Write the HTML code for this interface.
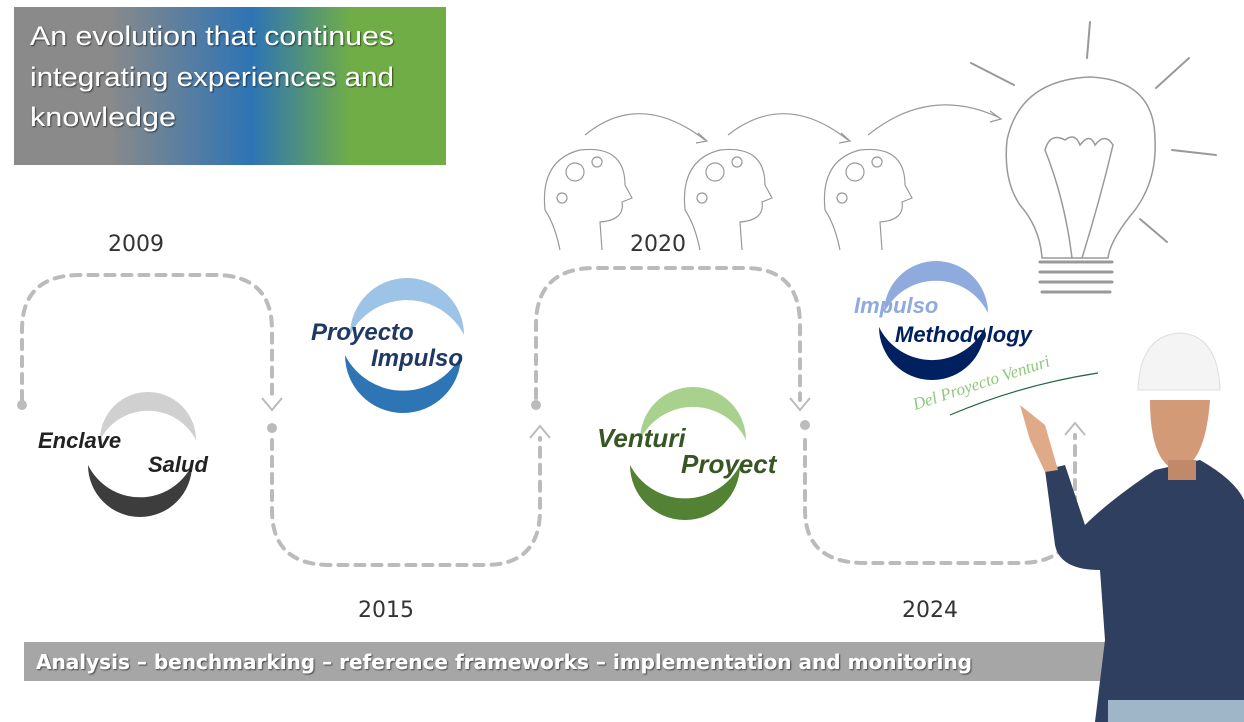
<!DOCTYPE html>
<html><head><meta charset="utf-8"><style>
body{margin:0;width:1244px;height:722px;overflow:hidden;background:#fff;font-family:"Liberation Sans",sans-serif}
svg{position:absolute;left:0;top:0}
</style></head><body>
<svg width="1244" height="722" viewBox="0 0 1244 722">
<defs>
<linearGradient id="hg" x1="0" x2="1" y1="0" y2="0">
<stop offset="0" stop-color="#8a8a8a"/><stop offset="0.22" stop-color="#8a8a8a"/>
<stop offset="0.55" stop-color="#2e74b5"/><stop offset="0.78" stop-color="#70ad47"/><stop offset="1" stop-color="#70ad47"/>
</linearGradient>
<filter id="sh"><feDropShadow dx="1" dy="1" stdDeviation="0.8" flood-color="#000" flood-opacity="0.6"/></filter>
</defs>
<rect x="14" y="7" width="432" height="158" fill="url(#hg)"/>
<g font-family="'Liberation Sans',sans-serif" font-size="27" fill="#fff" filter="url(#sh)">
<text x="30" y="45" textLength="364" lengthAdjust="spacingAndGlyphs">An evolution that continues</text>
<text x="30" y="86" textLength="364" lengthAdjust="spacingAndGlyphs">integrating experiences and</text>
<text x="30" y="126" textLength="146" lengthAdjust="spacingAndGlyphs">knowledge</text>
</g>
<g fill="none" stroke="#bbb" stroke-width="4" stroke-dasharray="9 8" stroke-linecap="round">
<path d="M22 400 V330 Q22 275 80 275 H215 Q272 275 272 330 V398"/>
<path d="M272 440 V510 Q272 565 330 565 H485 Q540 565 540 510 V438"/>
<path d="M536 398 V325 Q536 268 595 268 H745 Q800 268 800 325 V400"/>
<path d="M805 440 V510 Q805 563 865 563 H1020 Q1075 563 1075 510 V435"/>
</g>
<g fill="#bbb"><circle cx="22" cy="405" r="5"/><circle cx="272" cy="428" r="5"/><circle cx="536" cy="405" r="5"/><circle cx="805" cy="425" r="5"/></g>
<g fill="none" stroke="#bbb" stroke-width="2">
<path d="M262 398 L272 410 L282 398"/><path d="M530 438 L540 426 L550 438"/>
<path d="M790 398 L800 410 L810 398"/><path d="M1065 435 L1075 423 L1085 435"/>
</g>
<g font-family="'DejaVu Sans',sans-serif" font-size="22" fill="#333">
<text x="108" y="251">2009</text><text x="358" y="617">2015</text>
<text x="630" y="251">2020</text><text x="902" y="617">2024</text>
</g>
<g fill="none" stroke="#999" stroke-width="1.2">
<path d="M560 250 Q555 225 545 210 Q540 160 580 150 Q625 145 625 185 L632 198 L622 202 Q625 220 600 222 L602 250"/>
<path d="M700 250 Q695 225 685 210 Q680 160 720 150 Q765 145 765 185 L772 198 L762 202 Q765 220 740 222 L742 250"/>
<path d="M840 250 Q835 225 825 210 Q820 160 860 150 Q905 145 905 185 L912 198 L902 202 Q905 220 880 222 L882 250"/>
<circle cx="575" cy="172" r="9"/><circle cx="597" cy="162" r="5"/><circle cx="562" cy="198" r="5"/>
<circle cx="715" cy="172" r="9"/><circle cx="737" cy="162" r="5"/><circle cx="702" cy="198" r="5"/>
<circle cx="855" cy="172" r="9"/><circle cx="877" cy="162" r="5"/><circle cx="842" cy="198" r="5"/>
<path d="M585 135 Q640 90 705 140"/><path d="M698 133 L707 141 L696 143"/>
<path d="M728 135 Q785 90 848 140"/><path d="M841 133 L850 141 L839 143"/>
<path d="M868 135 Q930 85 1000 118"/><path d="M990 111 L1001 119 L990 122"/>
</g>
<g fill="none" stroke="#999" stroke-width="2" stroke-linecap="round">
<path d="M1090 22 L1087 58"/><path d="M971 63 L1014 85"/><path d="M1156 88 L1189 58"/><path d="M1172 150 L1216 155"/><path d="M1140 219 L1167 242"/>
<path d="M1042 258 Q1040 228 1020 205 Q1003 180 1007 140 Q1020 80 1090 77 Q1155 80 1155 140 Q1157 180 1135 210 Q1110 240 1108 258 Z" stroke-width="1.5"/>
<path d="M1072 258 Q1065 200 1045 150 Q1050 132 1065 140 Q1075 132 1080 145 Q1090 132 1095 145 Q1105 132 1113 145 Q1100 200 1082 258" stroke-width="1.5"/>
<path d="M1040 262 H1112 M1040 272 H1112 M1040 282 H1112 M1042 292 H1110" stroke-width="3"/>
</g>
<!-- logos -->
<path d="M100 440 A48 48 0 0 1 196 440 A54 54 0 0 0 100 440Z" fill="#d0d0d0"/>
<path d="M88 465 A52 52 0 0 0 192 465 A58 58 0 0 1 88 465Z" fill="#3d3d3d"/>
<text x="38" y="448" font-size="22" font-weight="bold" font-style="italic" fill="#222">Enclave</text>
<text x="148" y="472" font-size="22" font-weight="bold" font-style="italic" fill="#222">Salud</text>
<path d="M350 335 A57 57 0 0 1 464 335 A64 64 0 0 0 350 335Z" fill="#9dc3e6"/>
<path d="M345 355 A58 58 0 0 0 461 355 A65 65 0 0 1 345 355Z" fill="#2e75b6"/>
<text x="311" y="340" font-size="24" font-weight="bold" font-style="italic" fill="#1f3864">Proyecto</text>
<text x="371" y="366" font-size="24" font-weight="bold" font-style="italic" fill="#1f3864">Impulso</text>
<path d="M640 440 A53 53 0 0 1 746 440 A59 59 0 0 0 640 440Z" fill="#a9d18e"/>
<path d="M630 465 A55 55 0 0 0 740 465 A62 62 0 0 1 630 465Z" fill="#548235"/>
<text x="597" y="447" font-size="26" font-weight="bold" font-style="italic" fill="#375623">Venturi</text>
<text x="681" y="473" font-size="26" font-weight="bold" font-style="italic" fill="#375623">Proyect</text>
<path d="M884 313 A52 52 0 0 1 988 313 A58 58 0 0 0 884 313Z" fill="#8faadc"/>
<path d="M879 327 A53 53 0 0 0 985 327 A59 59 0 0 1 879 327Z" fill="#002060"/>
<text x="854" y="313" font-size="22" font-weight="bold" font-style="italic" fill="#8faadc">Impulso</text>
<text x="895" y="342" font-size="22" font-weight="bold" font-style="italic" fill="#002060">Methodology</text>
<text x="915" y="410" font-size="17" font-style="italic" fill="#8dc87a" font-family="'Liberation Serif',serif" transform="rotate(-18 915 410)">Del Proyecto Venturi</text>
<path d="M950 415 Q1020 385 1098 373" stroke="#264" stroke-width="1.2" fill="none"/>
<rect x="24" y="642" width="1090" height="39" fill="#a6a6a6"/>
<text x="36" y="669" font-size="20" font-weight="bold" fill="#fff" filter="url(#sh)" font-family="'DejaVu Sans',sans-serif" textLength="936" lengthAdjust="spacingAndGlyphs">Analysis – benchmarking – reference frameworks – implementation and monitoring</text>
<path d="M1095 722 L1105 640 L1100 570 Q1060 570 1055 545 L1045 470 L1065 465 L1085 525 Q1110 500 1155 470 L1200 460 Q1235 480 1244 500 V722Z" fill="#2f3f5f"/>
<path d="M1108 700 H1244 V722 H1108Z" fill="#9fb6c8"/>
<path d="M1020 405 L1045 425 L1058 470 L1045 472 L1030 440Z" fill="#e0a987"/>
<path d="M1150 400 Q1150 460 1175 470 Q1205 468 1210 400 Z" fill="#d39a78"/>
<rect x="1168" y="460" width="28" height="20" fill="#c08a6a"/>
<path d="M1138 390 Q1140 335 1180 333 Q1218 335 1220 390 Z" fill="#f4f4f4" stroke="#ddd"/>
</svg>
</body></html>
